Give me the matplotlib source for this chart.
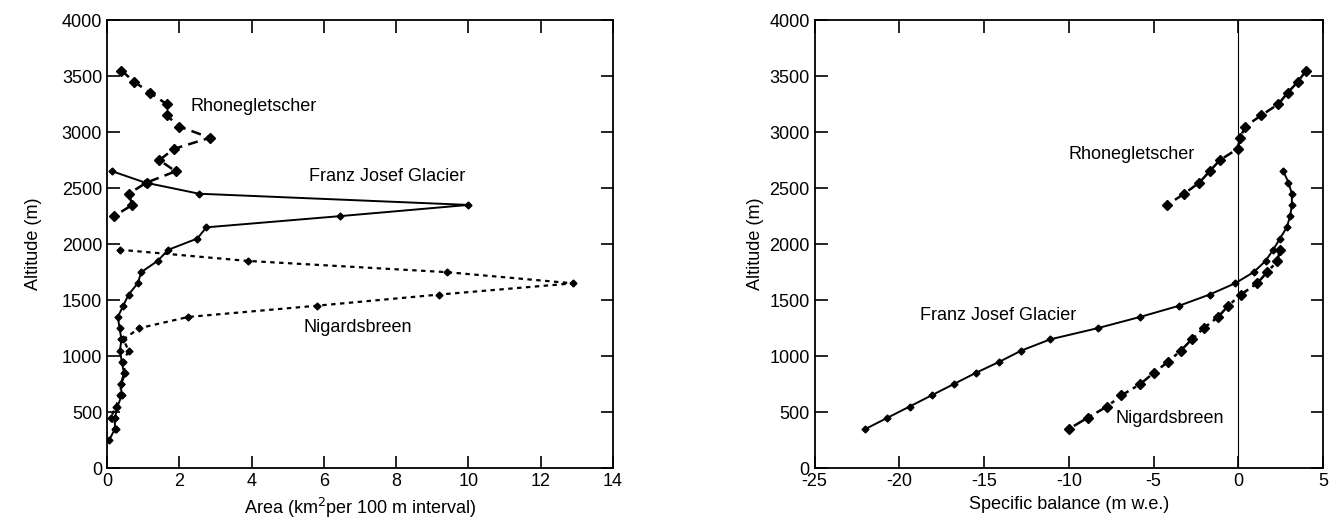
import numpy as np
from matplotlib import pyplot as plt

plt.rcParams['font.family'] = ['Liberation Sans', 'DejaVu Sans']
plt.rcParams['axes.unicode_minus'] = False

# left panel: area per 100 m interval
fj_alt = [2650, 2550, 2450, 2350, 2250, 2150, 2050, 1950, 1850, 1750, 1650,
          1550, 1450, 1350, 1250, 1150, 1050, 950, 850, 750, 650, 550, 450,
          350, 250]
fj_area = [0.15, 1.05, 2.55, 10.0, 6.45, 2.75, 2.5, 1.7, 1.4, 0.95, 0.85,
           0.6, 0.45, 0.3, 0.35, 0.4, 0.36, 0.41, 0.47, 0.38, 0.41, 0.29,
           0.22, 0.22, 0.06]

ni_alt = [1950, 1850, 1750, 1650, 1550, 1450, 1350, 1250, 1150, 1050, 950,
          850, 750, 650, 550, 450, 350]
ni_area = [0.35, 3.9, 9.4, 12.9, 9.2, 5.8, 2.25, 0.9, 0.45, 0.6, 0.45,
           0.5, 0.4, 0.35, 0.25, 0.1, 0.25]

rh_alt = [3550, 3450, 3350, 3250, 3150, 3050, 2950, 2850, 2750, 2650, 2550,
          2450, 2350, 2250]
rh_area = [0.4, 0.75, 1.2, 1.65, 1.65, 2.0, 2.85, 1.85, 1.45, 1.9, 1.1,
           0.6, 0.7, 0.2]

# right panel: specific balance
fj_b_alt = [2650, 2550, 2450, 2350, 2250, 2150, 2050, 1950, 1850, 1750, 1650,
            1550, 1450, 1350, 1250, 1150, 1050, 950, 850, 750, 650, 550,
            450, 350]
fj_bal = [2.65, 2.95, 3.15, 3.15, 3.05, 2.85, 2.45, 2.05, 1.6, 0.9, -0.2,
          -1.7, -3.5, -5.8, -8.3, -11.1, -12.8, -14.1, -15.5, -16.8, -18.1,
          -19.4, -20.7, -22.0]

ni_bal = [2.45, 2.3, 1.7, 1.1, 0.15, -0.6, -1.2, -2.05, -2.75, -3.4, -4.15,
          -5.0, -5.8, -6.9, -7.75, -8.9, -10.0]

rh_bal = [4.0, 3.5, 2.9, 2.35, 1.35, 0.4, 0.1, -0.05, -1.1, -1.7, -2.3,
          -3.2, -4.2]
rh_b_alt = rh_alt[:-1]

FS = 13

fig = plt.figure(figsize=(13.42, 5.29), dpi=100)
ax1 = fig.add_axes([0.0797, 0.115, 0.377, 0.847])
ax2 = fig.add_axes([0.607, 0.115, 0.379, 0.847])

ax1.plot(fj_area, fj_alt, color='black', lw=1.4, marker='D', ms=3.5)
ax1.plot(ni_area, ni_alt, color='black', lw=1.6, ls=(0, (2, 2)),
         marker='D', ms=3.5)
ax1.plot(rh_area, rh_alt, color='black', lw=1.8, ls=(0, (4, 2.5)),
         marker='D', ms=5)

ax1.text(2.3, 3230, 'Rhonegletscher', fontsize=FS, va='center')
ax1.text(5.6, 2600, 'Franz Josef Glacier', fontsize=FS, va='center')
ax1.text(5.45, 1260, 'Nigardsbreen', fontsize=FS, va='center')

ax1.set_xlim(0, 14)
ax1.set_ylim(0, 4000)
ax1.set_xticks(np.arange(0, 15, 2))
ax1.set_xlabel('Area (km$^2$per 100 m interval)', fontsize=FS)
ax1.set_ylabel('Altitude (m)', fontsize=FS, labelpad=14)

ax2.axvline(0, color='black', lw=0.8)
ax2.plot(fj_bal, fj_b_alt, color='black', lw=1.4, marker='D', ms=3.5)
ax2.plot(ni_bal, ni_alt, color='black', lw=1.8, ls=(0, (5, 2, 1.5, 2)),
         marker='D', ms=5)
ax2.plot(rh_bal, rh_b_alt, color='black', lw=1.8, ls=(0, (4, 2.5)),
         marker='D', ms=5)

ax2.text(-10.0, 2800, 'Rhonegletscher', fontsize=FS, va='center')
ax2.text(-18.8, 1366, 'Franz Josef Glacier', fontsize=FS, va='center')
ax2.text(-7.25, 446, 'Nigardsbreen', fontsize=FS, va='center')

ax2.set_xlim(-25, 5)
ax2.set_ylim(0, 4000)
ax2.set_xticks(np.arange(-25, 6, 5))
ax2.set_xlabel('Specific balance (m w.e.)', fontsize=FS)
ax2.set_ylabel('Altitude (m)', fontsize=FS)

for ax in (ax1, ax2):
    ax.set_yticks(np.arange(0, 4001, 500))
    ax.tick_params(direction='in', length=9, width=1.2, top=True,
                   right=True, labelsize=FS)
    for s in ax.spines.values():
        s.set_linewidth(1.3)

fig.savefig('out.png', dpi=100)
